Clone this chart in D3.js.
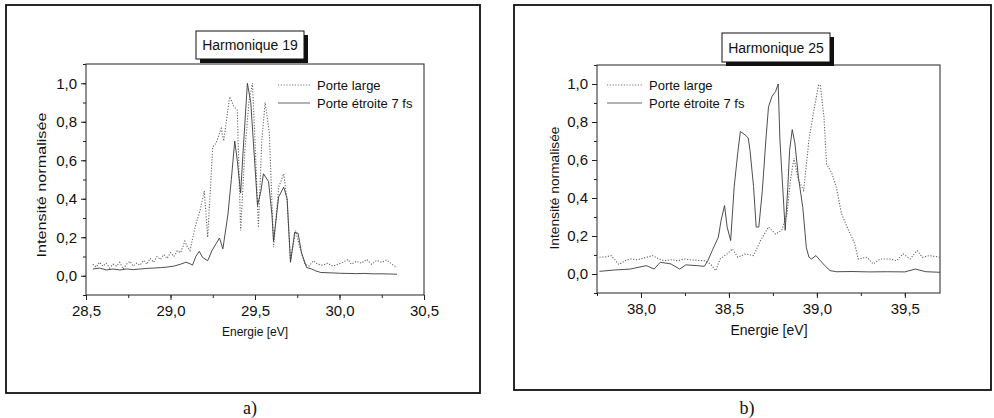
<!DOCTYPE html>
<html>
<head>
<meta charset="utf-8">
<script src="https://cdn.jsdelivr.net/npm/d3@7"></script>
<style>
    body { margin: 0; background: #fff; }
    text { font-family: "Liberation Sans", Arial, sans-serif; fill: #111; }
</style>
</head>
<body>
<div id="chart"></div>
<script>
// Harmonique 19 : porte large (pointillé) / porte étroite 7 fs (trait)
let h19Large = [
    [28.54,0.06],[28.56,0.045],[28.58,0.07],[28.60,0.05],[28.62,0.065],[28.64,0.04],[28.66,0.06],
    [28.68,0.05],[28.70,0.07],[28.72,0.035],[28.74,0.06],[28.76,0.075],[28.78,0.05],[28.80,0.065],
    [28.82,0.055],[28.84,0.08],[28.86,0.06],[28.88,0.09],[28.90,0.07],[28.92,0.10],[28.94,0.085],
    [28.96,0.11],[28.98,0.09],[29.00,0.12],[29.02,0.10],[29.04,0.13],[29.06,0.12],[29.085,0.18],
    [29.10,0.15],[29.115,0.13],[29.145,0.25],[29.175,0.34],[29.20,0.44],[29.22,0.20],[29.25,0.67],
    [29.27,0.69],[29.30,0.765],[29.315,0.70],[29.35,0.93],[29.375,0.88],[29.395,0.86],[29.415,0.235],
    [29.44,0.65],[29.465,0.91],[29.485,1.0],[29.50,0.70],[29.52,0.25],[29.54,0.70],[29.56,0.90],
    [29.585,0.74],[29.61,0.148],[29.64,0.46],[29.67,0.53],[29.69,0.39],[29.71,0.078],[29.74,0.235],
    [29.765,0.148],[29.795,0.06],[29.82,0.05],[29.845,0.078],[29.87,0.06],[29.90,0.055],[29.93,0.065],
    [29.96,0.05],[29.99,0.06],[30.02,0.07],[30.05,0.085],[30.07,0.06],[30.10,0.075],[30.13,0.065],
    [30.16,0.085],[30.19,0.06],[30.22,0.08],[30.25,0.07],[30.28,0.082],[30.31,0.06],[30.34,0.043]
];
let h19Narrow = [
    [28.54,0.035],[28.58,0.04],[28.62,0.03],[28.66,0.035],[28.70,0.03],[28.74,0.035],[28.78,0.032],
    [28.82,0.035],[28.86,0.038],[28.90,0.04],[28.94,0.042],[28.98,0.045],[29.02,0.05],[29.06,0.06],
    [29.09,0.07],[29.11,0.065],[29.13,0.055],[29.15,0.10],[29.17,0.127],[29.19,0.095],[29.22,0.078],
    [29.245,0.13],[29.265,0.16],[29.29,0.196],[29.31,0.14],[29.34,0.32],[29.36,0.50],[29.38,0.70],
    [29.395,0.60],[29.415,0.43],[29.43,0.65],[29.455,1.0],[29.475,0.90],[29.49,0.70],[29.515,0.365],
    [29.535,0.44],[29.55,0.53],[29.58,0.49],[29.60,0.32],[29.61,0.18],[29.64,0.41],[29.67,0.46],
    [29.69,0.40],[29.71,0.07],[29.735,0.226],[29.755,0.22],[29.775,0.12],[29.805,0.043],[29.835,0.035],
    [29.86,0.025],[29.89,0.017],[29.95,0.015],[30.00,0.013],[30.05,0.012],[30.10,0.011],[30.15,0.012],
    [30.20,0.010],[30.25,0.010],[30.30,0.009],[30.34,0.008]
];

// Harmonique 25
let h25Large = [
    [37.764,0.088],[37.80,0.09],[37.83,0.097],[37.875,0.05],[37.91,0.07],[37.94,0.079],[37.98,0.075],
    [38.02,0.085],[38.065,0.097],[38.10,0.08],[38.13,0.07],[38.17,0.075],[38.21,0.07],[38.245,0.079],
    [38.28,0.075],[38.32,0.072],[38.36,0.07],[38.395,0.053],[38.425,0.018],[38.45,0.079],[38.49,0.106],
    [38.52,0.132],[38.55,0.088],[38.595,0.106],[38.64,0.097],[38.68,0.176],[38.725,0.247],[38.765,0.21],
    [38.80,0.23],[38.83,0.317],[38.85,0.494],[38.87,0.61],[38.895,0.494],[38.925,0.44],[38.955,0.705],
    [38.98,0.847],[39.01,0.996],[39.02,0.99],[39.04,0.83],[39.055,0.58],[39.085,0.53],[39.11,0.46],
    [39.14,0.317],[39.18,0.23],[39.215,0.16],[39.235,0.079],[39.285,0.088],[39.32,0.053],[39.36,0.079],
    [39.415,0.079],[39.453,0.07],[39.49,0.106],[39.53,0.079],[39.57,0.123],[39.60,0.088],[39.64,0.097],
    [39.70,0.088]
];
let h25Narrow = [
    [37.764,0.014],[37.85,0.021],[37.94,0.026],[38.03,0.044],[38.075,0.026],[38.11,0.062],[38.17,0.053],
    [38.22,0.026],[38.255,0.048],[38.32,0.044],[38.36,0.04],[38.38,0.07],[38.405,0.123],[38.44,0.194],
    [38.455,0.28],[38.475,0.36],[38.49,0.247],[38.51,0.176],[38.53,0.46],[38.55,0.635],[38.565,0.75],
    [38.595,0.73],[38.61,0.715],[38.62,0.65],[38.64,0.46],[38.655,0.247],[38.67,0.247],[38.69,0.44],
    [38.71,0.705],[38.725,0.88],[38.745,0.935],[38.765,0.96],[38.78,1.0],[38.79,0.705],[38.81,0.39],
    [38.82,0.23],[38.835,0.46],[38.845,0.65],[38.86,0.76],[38.875,0.69],[38.895,0.51],[38.92,0.35],
    [38.94,0.14],[38.955,0.088],[38.97,0.079],[38.995,0.097],[39.02,0.07],[39.045,0.044],[39.075,0.018],
    [39.11,0.012],[39.20,0.013],[39.30,0.011],[39.40,0.012],[39.50,0.011],[39.56,0.026],[39.62,0.012],
    [39.70,0.009]
];

let yTicks = [0, 0.2, 0.4, 0.6, 0.8, 1.0];
let h19Ticks = [28.5, 29.0, 29.5, 30.0, 30.5];
let h25Ticks = [38.0, 38.5, 39.0, 39.5];
let legendLabels = ["Porte large", "Porte étroite 7 fs"];

const fr = d3.formatLocale({decimal: ",", thousands: ".", grouping: [3], currency: ["", ""]});
const fmt = fr.format(".1f");

const svg = d3.select("#chart").append("svg")
    .attr("width", 994)
    .attr("height", 418);

class SpectrumPanel {

    constructor(cfg) {
        this.cfg = cfg;
        this.initVis();
    }

    initVis() {
        let vis = this;
        let c = vis.cfg;

        vis.g = svg.append("g");

        // cadre extérieur
        vis.g.append("rect")
            .attr("x", c.frame[0]).attr("y", c.frame[1])
            .attr("width", c.frame[2] - c.frame[0]).attr("height", c.frame[3] - c.frame[1])
            .attr("fill", "none").attr("stroke", "#111").attr("stroke-width", 1.8);

        vis.x = d3.scaleLinear().domain(c.xDomain).range([c.plot[0], c.plot[2]]);
        vis.y = d3.scaleLinear().domain([-0.1, 1.1]).range([c.plot[3], c.plot[1]]);

        // minor ticks
        vis.g.append("g")
            .attr("transform", `translate(0,${c.plot[3]})`)
            .call(d3.axisBottom(vis.x).tickValues(c.xMinor).tickSize(3).tickFormat(""));
        vis.g.append("g")
            .attr("transform", `translate(${c.plot[0]},0)`)
            .call(d3.axisLeft(vis.y).tickValues(d3.range(-1, 12).map(d => d / 10)).tickSize(3).tickFormat(""));

        vis.xAxis = vis.g.append("g")
            .attr("class", "axis")
            .attr("transform", `translate(0,${c.plot[3]})`)
            .call(d3.axisBottom(vis.x).tickValues(c.xTicks).tickSize(5).tickPadding(5).tickFormat(fmt));
        vis.yAxis = vis.g.append("g")
            .attr("class", "axis")
            .attr("transform", `translate(${c.plot[0]},0)`)
            .call(d3.axisLeft(vis.y).tickValues(yTicks).tickSize(5).tickPadding(4).tickFormat(fmt));

        vis.g.selectAll(".axis text").style("font-size", "15px").attr("fill", "#111");
        vis.g.selectAll(".domain").remove();
        vis.g.selectAll(".tick line").attr("stroke", "#222");

        // boîte du graphe
        vis.g.append("rect")
            .attr("x", c.plot[0]).attr("y", c.plot[1])
            .attr("width", c.plot[2] - c.plot[0]).attr("height", c.plot[3] - c.plot[1])
            .attr("fill", "none").attr("stroke", "#222").attr("stroke-width", 1);

        let line = d3.line().x(d => vis.x(d[0])).y(d => vis.y(d[1]));

        vis.g.append("path").datum(c.large)
            .attr("d", line)
            .attr("fill", "none").attr("stroke", "#666").attr("stroke-width", 1.1)
            .attr("stroke-dasharray", "1.2,1.6");
        vis.g.append("path").datum(c.narrow)
            .attr("d", line)
            .attr("fill", "none").attr("stroke", "#3a3a3a").attr("stroke-width", 0.9);

        // légende
        legendLabels.forEach((lab, i) => {
            let ly = c.legend[1] + i * 18;
            vis.g.append("line")
                .attr("x1", c.legend[0]).attr("x2", c.legend[0] + c.legend[2])
                .attr("y1", ly).attr("y2", ly)
                .attr("stroke", i == 0 ? "#666" : "#555")
                .attr("stroke-width", 0.9)
                .attr("stroke-dasharray", i == 0 ? "1.2,1.6" : null);
            vis.g.append("text")
                .attr("x", c.legend[0] + c.legend[2] + 7).attr("y", ly + 5)
                .style("font-size", "13px")
                .text(lab);
        });

        // titre avec ombre
        let tb = c.titleBox;
        vis.g.append("rect")
            .attr("x", tb[0] + 4).attr("y", tb[1] + 4)
            .attr("width", tb[2]).attr("height", tb[3])
            .attr("fill", "#111");
        vis.g.append("rect")
            .attr("x", tb[0]).attr("y", tb[1])
            .attr("width", tb[2]).attr("height", tb[3])
            .attr("fill", "#fff").attr("stroke", "#111").attr("stroke-width", 1);
        vis.g.append("text")
            .attr("x", tb[0] + tb[2] / 2).attr("y", tb[1] + tb[3] / 2 + 5)
            .attr("text-anchor", "middle")
            .style("font-size", "14px")
            .text(c.title);

        vis.g.append("text")
            .attr("x", c.xLabel[0]).attr("y", c.xLabel[1])
            .attr("text-anchor", "middle")
            .style("font-size", c.xLabel[2] + "px")
            .text("Energie [eV]");

        vis.g.append("text")
            .attr("transform", `translate(${c.yLabel[0]},${c.yLabel[1]}) rotate(-90)`)
            .attr("text-anchor", "middle")
            .attr("textLength", c.yLabel[2])
            .attr("lengthAdjust", "spacingAndGlyphs")
            .style("font-size", "13px")
            .text("Intensité normalisée");

        vis.g.append("text")
            .attr("x", c.caption[0]).attr("y", c.caption[1])
            .attr("text-anchor", "middle")
            .style("font-family", "'Liberation Serif', serif")
            .style("font-size", "18px")
            .text(c.caption[2]);
    }
}

new SpectrumPanel({
    frame: [6, 5, 480, 393],
    plot: [86, 64, 424, 295],
    xDomain: [28.5, 30.5],
    xTicks: h19Ticks,
    xMinor: d3.range(0, 9).map(i => 28.5 + i * 0.25),
    large: h19Large,
    narrow: h19Narrow,
    legend: [278, 85, 32],
    titleBox: [196, 31, 108, 28],
    title: "Harmonique 19",
    xLabel: [255, 336, 12],
    yLabel: [46, 185, 145],
    caption: [250, 414, "a)"]
});

new SpectrumPanel({
    frame: [514, 5, 991, 390],
    plot: [597, 65, 940, 293],
    xDomain: [37.75, 39.7],
    xTicks: h25Ticks,
    xMinor: d3.range(0, 8).map(i => 37.75 + i * 0.25),
    large: h25Large,
    narrow: h25Narrow,
    legend: [607, 85, 35],
    titleBox: [722, 33, 108, 29],
    title: "Harmonique 25",
    xLabel: [769, 335, 14],
    yLabel: [559, 188, 123],
    caption: [747, 414, "b)"]
});
</script>
</body>
</html>
